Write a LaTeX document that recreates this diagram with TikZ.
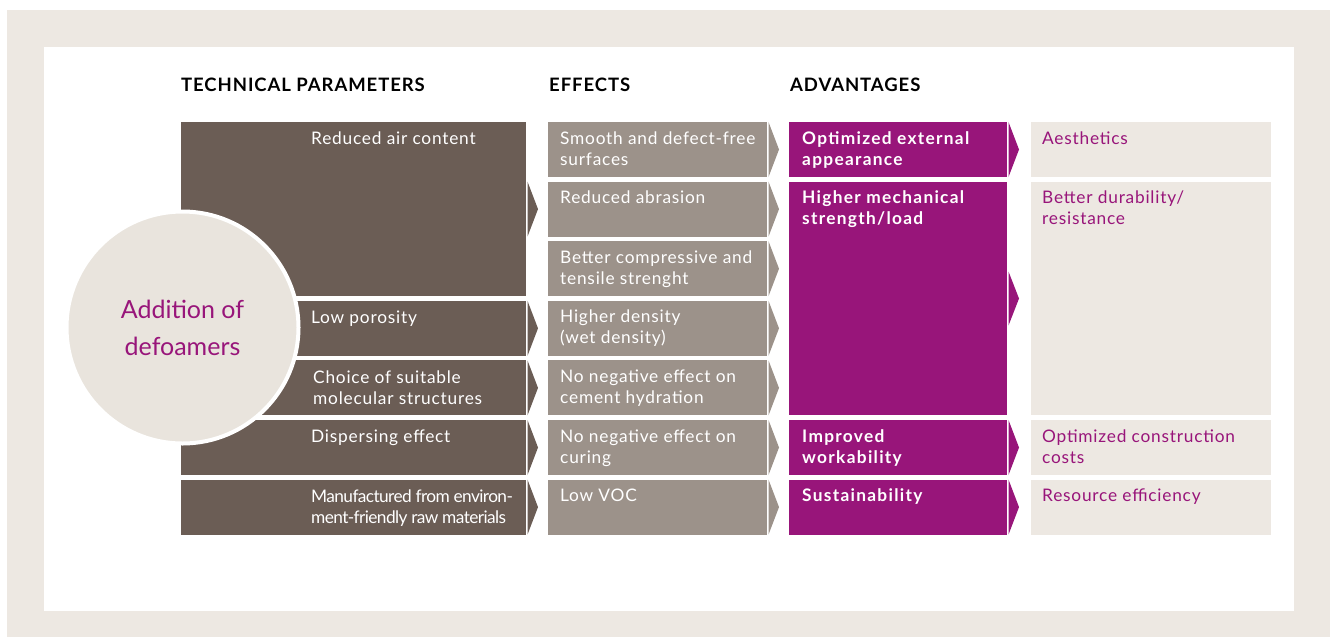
\documentclass[tikz,border=0pt]{standalone}
\usepackage{fontspec}
\setmainfont{Lato}
\definecolor{framec}{RGB}{237,232,226}
\definecolor{tpc}{RGB}{107,93,85}
\definecolor{efc}{RGB}{156,146,138}
\definecolor{advc}{RGB}{152,21,122}
\definecolor{resc}{RGB}{237,232,226}
\definecolor{circc}{RGB}{233,228,221}
\newcommand\tipshape[4]{\fill[#1] (#2+1.5,#3) -- (#2+12,{(#3+#4)/2}) -- (#2+1.5,#4) -- cycle;}
\begin{document}
\begin{tikzpicture}[x=1pt,y=-1pt,
  cell/.style={rectangle, inner sep=0pt, outer sep=0pt, anchor=north west},
  txt/.style={inner sep=0pt, anchor=base west, align=left, font=\fontsize{17.3}{21}\selectfont\addfontfeature{LetterSpace=4.5}},
  btxt/.style={txt, font=\fontsize{17.3}{21}\selectfont\bfseries\addfontfeature{LetterSpace=7.5}},
  head/.style={inner sep=0pt, anchor=base west, font=\fontsize{18.5}{21}\selectfont\bfseries\addfontfeature{LetterSpace=5}, text=black}]
\useasboundingbox (0,0) rectangle (1338,637);
\fill[framec] (7,10) rectangle (1330,637);
\fill[white] (44,47) rectangle (1294,611);
% headers
\node[head] (h1) at (181,91) {TECHNICAL PARAMETERS};
\node[head] (h2) at (549,91) {EFFECTS};
\node[head] (h3) at (790,91) {ADVANTAGES};
% column 1
\node[cell, fill=tpc, minimum width=345, minimum height=174.2] (p1) at (181,122) {};
\node[cell, fill=tpc, minimum width=345, minimum height=55] (p2) at (181,300.8) {};
\node[cell, fill=tpc, minimum width=345, minimum height=55] (p3) at (181,360.4) {};
\node[cell, fill=tpc, minimum width=345, minimum height=55] (p4) at (181,420) {};
\node[cell, fill=tpc, minimum width=345, minimum height=55] (p5) at (181,479.6) {};
\tipshape{tpc}{526}{181.6}{236.6}
\tipshape{tpc}{526}{300.8}{355.8}
\tipshape{tpc}{526}{360.4}{415.4}
\tipshape{tpc}{526}{420}{475}
\tipshape{tpc}{526}{479.6}{534.6}
% column 2
\foreach \i/\t in {1/122,2/181.6,3/241.2,4/300.8,5/360.4,6/420,7/479.6}{
  \node[cell, fill=efc, minimum width=219, minimum height=55] (e\i) at (548,\t) {};
  \tipshape{efc}{767}{\t}{\t+55}
}
% column 3
\node[cell, fill=advc, minimum width=218, minimum height=55] (a1) at (789,122) {};
\node[cell, fill=advc, minimum width=218, minimum height=233.8] (a2) at (789,181.6) {};
\node[cell, fill=advc, minimum width=218, minimum height=55] (a3) at (789,420) {};
\node[cell, fill=advc, minimum width=218, minimum height=55] (a4) at (789,479.6) {};
\tipshape{advc}{1007}{122}{177}
\tipshape{advc}{1007}{271.5}{325.5}
\tipshape{advc}{1007}{420}{475}
\tipshape{advc}{1007}{479.6}{534.6}
% column 4
\node[cell, fill=resc, minimum width=240, minimum height=55] (r1) at (1031,122) {};
\node[cell, fill=resc, minimum width=240, minimum height=233.8] (r2) at (1031,181.6) {};
\node[cell, fill=resc, minimum width=240, minimum height=55] (r3) at (1031,420) {};
\node[cell, fill=resc, minimum width=240, minimum height=55] (r4) at (1031,479.6) {};
% circle
\node[circle, fill=circc, draw=white, line width=4pt, minimum size=232, inner sep=0pt,
  text=advc, align=center, font=\fontsize{25}{37}\selectfont] (c) at (182.5,327.5) {Addition of\\defoamers};
% texts column 1 (base = last line)
\node[txt, text=white] (tp1) at (311,144) {Reduced air content};
\node[txt, text=white] (tp2) at (311,323) {Low porosity};
\node[txt, text=white] (tp3) at (313,404) {Choice of suitable\\molecular structures};
\node[txt, text=white] (tp4) at (311,442.5) {Dispersing effect};
\node[txt, text=white, font=\fontsize{17.3}{21}\selectfont\addfontfeature{LetterSpace=-3.5}] (tp5) at (311,523) {Manufactured from environ-\\ment-friendly raw materials};
% texts column 2
\node[txt, text=white] (te1) at (560,165) {Smooth and defect-free\\surfaces};
\node[txt, text=white] (te2) at (560,203.6) {Reduced abrasion};
\node[txt, text=white] (te3) at (560,284.2) {Better compressive and\\tensile strenght};
\node[txt, text=white] (te4) at (560,343.8) {Higher density\\(wet density)};
\node[txt, text=white] (te5) at (560,403.4) {No negative effect on\\cement hydration};
\node[txt, text=white] (te6) at (560,463) {No negative effect on\\curing};
\node[txt, text=white] (te7) at (560,501.6) {Low VOC};
% texts column 3
\node[btxt, text=white] (ta1) at (802,165) {Optimized external\\appearance};
\node[btxt, text=white] (ta2) at (802,224.6) {Higher mechanical\\strength/load};
\node[btxt, text=white] (ta3) at (802,463) {Improved\\workability};
\node[btxt, text=white] (ta4) at (802,501.6) {Sustainability};
% texts column 4
\node[txt, text=advc] (tr1) at (1042,144) {Aesthetics};
\node[txt, text=advc] (tr2) at (1042,224.6) {Better durability/\\resistance};
\node[txt, text=advc] (tr3) at (1042,463) {Optimized construction\\costs};
\node[txt, text=advc] (tr4) at (1042,501.6) {Resource efficiency};
\end{tikzpicture}
\end{document}
